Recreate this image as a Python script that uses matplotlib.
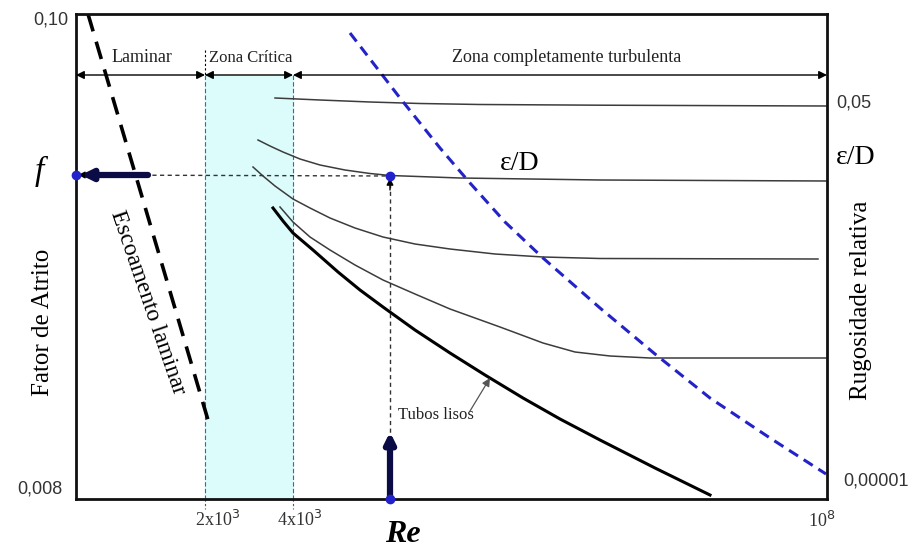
import matplotlib.pyplot as plt
import numpy as np

plt.rcParams['font.family'] = ['Liberation Serif', 'DejaVu Serif']

x_left, x_right = 76, 827
y_top, y_bot = 14, 499

zone_edges = [76, 205, 293, 827]
zone_names = ['Laminar', 'Zona Crítica', 'Zona completamente turbulenta']
zone_label_x = [142, 251, 567]
zone_arrow_y = 75

laminar_x = [88, 208]
laminar_y = [14, 420]

# relative roughness curves
eD1_x = [275, 320, 370, 420, 480, 600, 826]
eD1_y = [98, 100, 102, 103.5, 104.5, 105.2, 106]
eD2_x = [258, 270, 283, 300, 320, 345, 370, 390, 460, 600, 826]
eD2_y = [140, 146, 152, 159, 165, 170, 173.5, 175.5, 178, 180, 181]
eD3_x = [253, 263, 275, 293, 310, 330, 355, 383, 415, 450, 495, 543, 600, 818]
eD3_y = [167, 176, 186, 199, 208, 218, 228, 237, 244, 249, 254, 257, 258.5, 259]
eD4_x = [280, 293, 310, 330, 355, 383, 415, 450, 500, 543, 575, 610, 650, 826]
eD4_y = [207, 222, 237, 250, 265, 280, 294, 309, 327, 343, 352, 356, 358, 358]

# smooth pipes
smooth_x = [273, 283, 293, 313, 338, 360, 383, 415, 450, 485, 523, 560, 600, 655, 710]
smooth_y = [208, 221, 233, 250, 272, 290, 307, 330, 353, 375, 398, 419, 440, 468, 495]

# limit of the complete turbulence zone
turb_x = [350, 400, 440, 470, 505, 543, 600, 655, 710, 770, 826]
turb_y = [33, 98, 148, 183, 222, 258, 308, 354, 398, 438, 474]

# reading point
Re_point = 390
f_point = 176

navy = '#0b0b45'
blue = '#2323c8'
gray = '#3c3c3c'

fig = plt.figure(figsize=(9.2, 5.52), dpi=100)
ax = fig.add_axes([x_left / 920, 1 - y_bot / 552, (x_right - x_left) / 920, (y_bot - y_top) / 552])
ax.set_xlim(x_left, x_right)
ax.set_ylim(y_bot, y_top)
ax.set_xticks([])
ax.set_yticks([])
for s in ax.spines.values():
    s.set_linewidth(2)
    s.set_color('#111111')

# critical zone
ax.fill_between([zone_edges[1], zone_edges[2]], zone_arrow_y, y_bot, color='#dcfbfb', zorder=0)
for xe in zone_edges[1:3]:
    ax.plot([xe, xe], [zone_arrow_y, y_bot], color='#4a6590', lw=0.8, ls=(0, (4, 2)), zorder=1)
    ax.plot([xe, xe], [y_bot, y_bot + 10], color='#555555', lw=0.8, ls=(0, (2, 2)), clip_on=False)
ax.plot([zone_edges[1], zone_edges[1]], [50, zone_arrow_y], color='black', lw=0.8, ls=(0, (2, 2)))

# zone arrows and labels
for i in range(3):
    ax.annotate('', xy=(zone_edges[i + 1], zone_arrow_y), xytext=(zone_edges[i], zone_arrow_y),
                arrowprops=dict(arrowstyle='<|-|>', color='black', lw=1, shrinkA=0, shrinkB=0,
                                mutation_scale=12))
    ax.text(zone_label_x[i], zone_arrow_y - 9, zone_names[i], ha='center', va='bottom',
            fontsize=13 if i != 1 else 12, color='#222222')

# laminar line
ln, = ax.plot(laminar_x, laminar_y, color='black', lw=2.6)
ln.set_dashes([5, 3])
ax.text(148, 303, 'Escoamento laminar', rotation=-71, ha='center', va='center',
        fontsize=17, rotation_mode='anchor')

# roughness curves
for cx, cy in [(eD1_x, eD1_y), (eD2_x, eD2_y), (eD3_x, eD3_y), (eD4_x, eD4_y)]:
    ax.plot(cx, cy, color=gray, lw=1.1, solid_joinstyle='round')
ax.plot(smooth_x, smooth_y, color='black', lw=2.2, solid_joinstyle='round')

bl, = ax.plot(turb_x, turb_y, color=blue, lw=2.2)
bl.set_dashes([3.5, 2.2])

# reading lines
ax.plot([x_left, Re_point], [f_point - 1, f_point], color='#333333', lw=1, ls=(0, (3, 2.5)))
ax.plot([Re_point, Re_point], [f_point, y_bot], color='#333333', lw=1, ls=(0, (3, 2.5)))
ax.annotate('', xy=(x_left + 2, f_point - 1), xytext=(x_left + 14, f_point - 1),
            arrowprops=dict(arrowstyle='-|>', color='black', lw=1, mutation_scale=10, shrinkA=0, shrinkB=0))
ax.annotate('', xy=(Re_point, f_point + 2), xytext=(Re_point, f_point + 14),
            arrowprops=dict(arrowstyle='-|>', color='black', lw=1, mutation_scale=10, shrinkA=0, shrinkB=0))
ax.annotate('', xy=(x_left + 5, f_point - 1), xytext=(148, f_point - 1),
            arrowprops=dict(arrowstyle='-|>,head_length=0.6,head_width=0.3', color=navy, lw=4.5,
                            shrinkA=0, shrinkB=0))
ax.annotate('', xy=(Re_point, 432), xytext=(Re_point, y_bot),
            arrowprops=dict(arrowstyle='-|>,head_length=0.6,head_width=0.3', color=navy, lw=4.5,
                            shrinkA=0, shrinkB=0))
ax.plot([x_left, Re_point, Re_point], [f_point - 1, f_point, y_bot], 'o', color='#2222cc',
        ms=6, clip_on=False, zorder=5)

# annotations inside
ax.text(520, 164, 'ε/D', fontsize=20, ha='center', va='center')
ax.text(398, 415, 'Tubos lisos', fontsize=12, ha='left', va='center', color='#222222')
ax.annotate('', xy=(490, 378), xytext=(470, 411),
            arrowprops=dict(arrowstyle='-|>', color='#555555', lw=0.9, mutation_scale=12,
                            shrinkA=0, shrinkB=0))

# outer labels
num_font = ['Liberation Sans', 'DejaVu Sans']
ax.text(68, 20, '0,10', ha='right', va='center', fontsize=13, color='#333333', family=num_font, clip_on=False)
ax.text(63, 489, '0,008', ha='right', va='center', fontsize=13, color='#333333', family=num_font, clip_on=False)
ax.text(836, 103, '0,05', ha='left', va='center', fontsize=13, color='#333333', family=num_font, clip_on=False)
ax.text(843, 481, '0,00001', ha='left', va='center', fontsize=13, color='#333333', family=num_font, clip_on=False)
ax.text(836, 158, 'ε/D', ha='left', va='center', fontsize=20, clip_on=False)
ax.text(39, 171, 'f', ha='center', va='center', fontsize=24, style='italic', clip_on=False)
ax.text(43, 322, 'Fator de Atrito', rotation=90, ha='center', va='center', fontsize=18, clip_on=False)
ax.text(861, 300, 'Rugosidade relativa', rotation=90, ha='center', va='center', fontsize=18, clip_on=False)
ax.text(218, 520, r'2x10$^3$', ha='center', va='center', fontsize=13, color='#333333', clip_on=False)
ax.text(300, 520, r'4x10$^3$', ha='center', va='center', fontsize=13, color='#333333', clip_on=False)
ax.text(822, 521, r'10$^8$', ha='center', va='center', fontsize=13, color='#333333', clip_on=False)
ax.text(403, 534, 'Re', ha='center', va='center', fontsize=23, style='italic', weight='bold', clip_on=False)

fig.savefig('out.png', dpi=100)
